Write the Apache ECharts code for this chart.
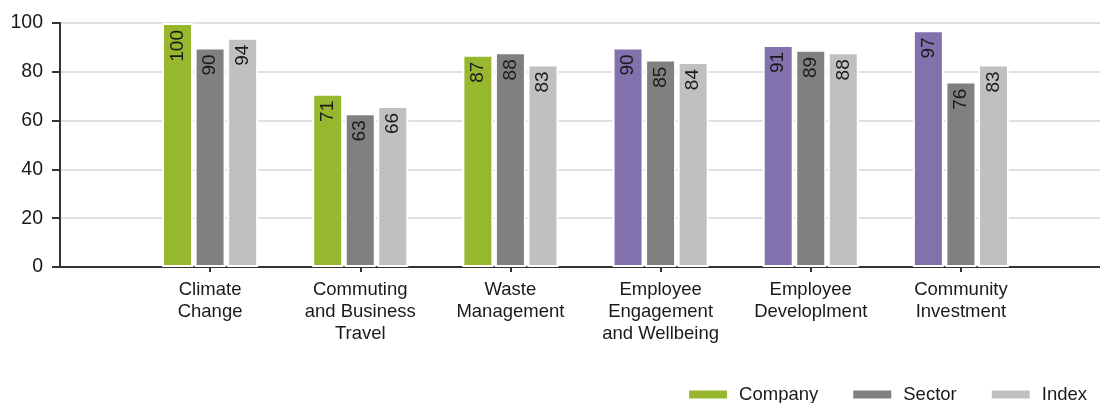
<!DOCTYPE html>
<html>
<head>
<meta charset="utf-8">
<script src="https://cdn.jsdelivr.net/npm/echarts@6/dist/echarts.min.js"></script>
<style>
  html, body { margin: 0; padding: 0; background: #fff; }
  #chart { width: 1100px; height: 403px; }
</style>
</head>
<body>
<div id="chart"></div>
<script>
// Category names and scores per area
const categories = [
  'Climate\nChange',
  'Commuting\nand Business\nTravel',
  'Waste\nManagement',
  'Employee\nEngagement\nand Wellbeing',
  'Employee\nDeveloplment',
  'Community\nInvestment'
];
const companyScores = [100, 71, 87, 90, 91, 97];
const sectorScores = [90, 63, 88, 85, 89, 76];
const indexScores = [94, 66, 83, 84, 88, 83];
const yTicks = [0, 20, 40, 60, 80, 100];

// Environmental areas in green, people areas in purple
const companyColors = ['#97b82e', '#97b82e', '#97b82e', '#8172ad', '#8172ad', '#8172ad'];
const sectorColor = '#808080';
const indexColor = '#c0c0c0';

const FONT = '"Liberation Sans", Arial, sans-serif';
const TEXT = '#1a1a1a';

const valueLabel = {
  show: true,
  position: 'insideTop',
  rotate: 90,
  align: 'right',
  verticalAlign: 'middle',
  distance: 7,
  fontFamily: FONT,
  fontSize: 19,
  color: TEXT
};

const barStyle = (color) => ({ color: color, borderColor: '#ffffff', borderWidth: 2 });

const chart = echarts.init(document.getElementById('chart'), null, { renderer: 'canvas' });

chart.setOption({
  animation: false,
  backgroundColor: '#ffffff',
  grid: [
    // frame: value axis, gridlines and baseline across the full width
    { left: 60, right: 0, top: 23, bottom: 136, containLabel: false },
    // bars
    { left: 135, right: 64, top: 23, bottom: 136, containLabel: false }
  ],
  xAxis: [
    {
      gridIndex: 0, type: 'value', min: 0, max: 1,
      axisLine: { show: true, onZero: false, lineStyle: { color: '#333333', width: 2 } },
      axisTick: { show: false }, axisLabel: { show: false }, splitLine: { show: false }
    },
    {
      gridIndex: 1, type: 'category', data: categories,
      axisLine: { show: false },
      axisTick: { show: true, alignWithLabel: true, length: 5, lineStyle: { color: '#333333', width: 2 } },
      axisLabel: { fontFamily: FONT, fontSize: 18.5, color: TEXT, lineHeight: 22, margin: 12, interval: 0 }
    }
  ],
  yAxis: [
    {
      gridIndex: 0, type: 'value', min: yTicks[0], max: yTicks[yTicks.length - 1],
      interval: yTicks[1] - yTicks[0],
      axisLine: { show: true, lineStyle: { color: '#333333', width: 2 } },
      axisTick: { show: true, length: 8, lineStyle: { color: '#333333', width: 2 } },
      axisLabel: { fontFamily: FONT, fontSize: 19.5, color: TEXT, margin: 17 },
      splitLine: { show: true, lineStyle: { color: '#e0e0e0', width: 2 } }
    },
    {
      gridIndex: 1, type: 'value', min: yTicks[0], max: yTicks[yTicks.length - 1],
      show: false, splitLine: { show: false }
    }
  ],
  legend: {
    bottom: -6,
    right: 8,
    itemWidth: 40,
    itemHeight: 10,
    itemGap: 33,
    icon: 'rect',
    textStyle: { fontFamily: FONT, fontSize: 18.5, color: TEXT, padding: [0, 0, 0, 6] },
    data: [
      { name: 'Company', itemStyle: { color: companyColors[0] } },
      { name: 'Sector', itemStyle: { color: sectorColor } },
      { name: 'Index', itemStyle: { color: indexColor } }
    ]
  },
  series: [
    {
      name: 'Company', type: 'bar', xAxisIndex: 1, yAxisIndex: 1,
      barWidth: 31, barGap: '5%',
      itemStyle: { color: companyColors[0], borderColor: '#ffffff', borderWidth: 2 },
      label: valueLabel,
      data: companyScores.map((v, i) => ({ value: v, itemStyle: barStyle(companyColors[i]) }))
    },
    {
      name: 'Sector', type: 'bar', xAxisIndex: 1, yAxisIndex: 1,
      barWidth: 31, barGap: '5%',
      itemStyle: barStyle(sectorColor),
      label: valueLabel,
      data: sectorScores
    },
    {
      name: 'Index', type: 'bar', xAxisIndex: 1, yAxisIndex: 1,
      barWidth: 31, barGap: '5%',
      itemStyle: barStyle(indexColor),
      label: valueLabel,
      data: indexScores
    }
  ]
});
</script>
</body>
</html>
